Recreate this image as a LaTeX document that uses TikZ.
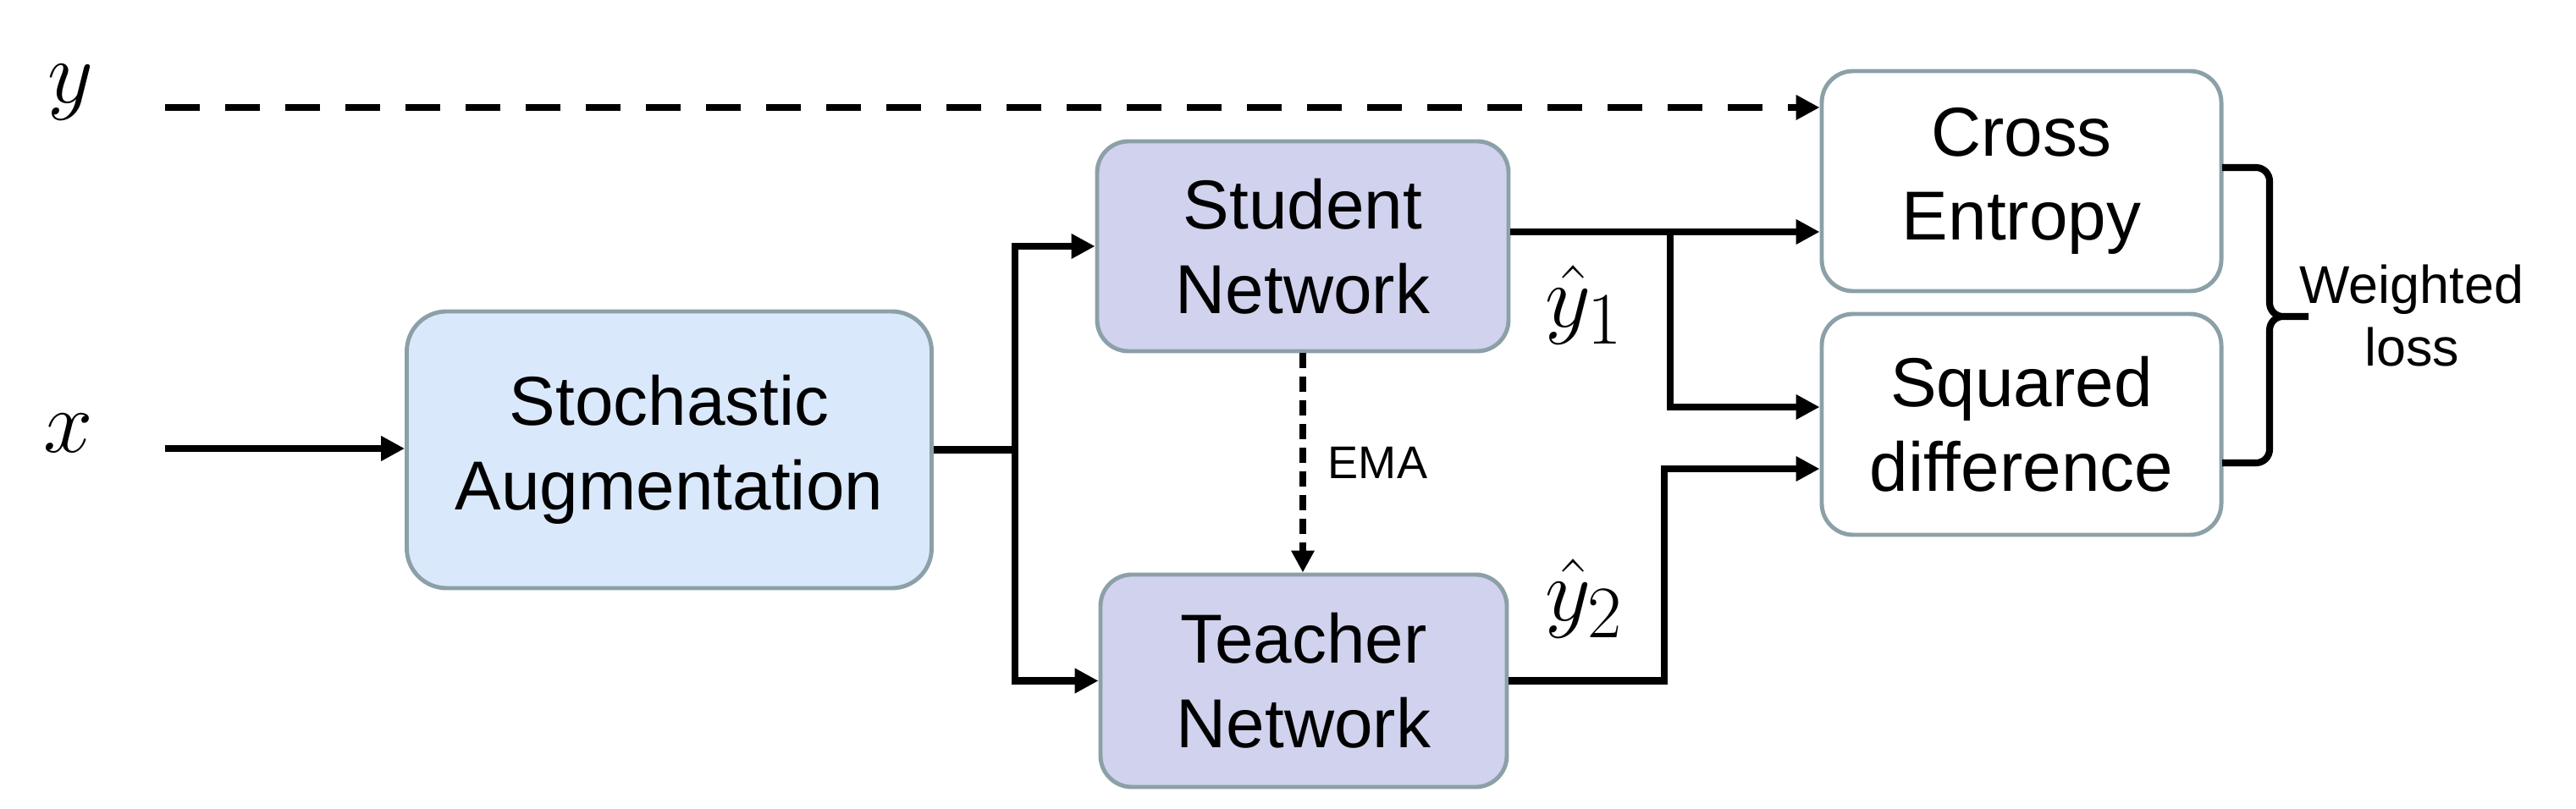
\documentclass[tikz,border=0pt]{standalone}
\usepackage{amsmath}
\usepackage{fontspec}
\setmainfont{Liberation Sans}
\usetikzlibrary{arrows.meta,positioning,calc}

\definecolor{augblue}{RGB}{218,232,252}
\definecolor{netlilac}{RGB}{208,210,238}
\definecolor{boxedge}{RGB}{139,160,167}

\tikzset{
  block/.style={draw=boxedge, line width=1.4pt, align=center, inner sep=0pt,
    font=\fontsize{23.3}{28.4}\selectfont, rounded corners=0.37cm},
  flow/.style={line width=2.5pt, -{Triangle[length=0.28cm,width=0.28cm]}},
  plain/.style={line width=2.5pt},
  mathlab/.style={font=\fontsize{24.88}{30}\selectfont, scale=1.2, inner sep=0pt},
}

\begin{document}
\begin{tikzpicture}% [scale=0.8]
\useasboundingbox (0,0) rectangle (30.43,9.55);

\node[block, fill=augblue, minimum width=6.2cm, minimum height=3.27cm, rounded corners=0.47cm] (aug) at (7.905,4.235) {Stochastic\\Augmentation};
\node[block, fill=netlilac, minimum width=4.86cm, minimum height=2.48cm] (student) at (15.39,6.64) {Student\\Network};
\node[block, fill=netlilac, minimum width=4.8cm, minimum height=2.51cm] (teacher) at (15.40,1.505) {Teacher\\Network};
\node[block, fill=white, minimum width=4.72cm, minimum height=2.6cm] (ce) at (23.88,7.41) {Cross\\Entropy};
\node[block, fill=white, minimum width=4.72cm, minimum height=2.61cm] (sd) at (23.88,4.535) {Squared\\difference};

\node[mathlab] (ylab) at (0.83,8.46) {$y$};
\node[mathlab] (xlab) at (0.805,4.435) {$x$};
\node[mathlab] (yhat1) at (18.72,5.95) {$\hat{y}_1$};
\node[mathlab] (yhat2) at (18.72,2.48) {$\hat{y}_2$};
\node[font=\fontsize{17.9}{21.3}\selectfont, align=center, inner sep=0pt] (wloss) at (28.49,5.82) {Weighted\\loss};

\coordinate (ystart) at (1.95,8.28);
\coordinate (xstart) at (1.95,4.25);
\coordinate (split) at (11.99,4.235);
\coordinate (s1) at ([yshift=0.17cm]student.east);
\coordinate (j1) at (19.73,0);
\coordinate (j2) at (19.66,0);

\draw[flow, dash pattern=on 0.41cm off 0.30cm] (ystart) -- (ystart -| ce.west);
\draw[flow] (xstart) -- (xstart -| aug.west);
\draw[plain] (aug.east) -- (split);
\draw[flow] (split) |- (student.west);
\draw[flow] (split) |- (teacher.west);

\draw[flow] (s1) -- (s1 -| ce.west);
\draw[flow] (s1 -| j1) |- ([yshift=0.205cm]sd.west);
\draw[flow] (teacher.east) -- (teacher.east -| j2) |- ([yshift=-0.525cm]sd.west);

\draw[line width=2.2pt, dash pattern=on 0.18cm off 0.10cm, -{Triangle[length=0.26cm,width=0.26cm]}]
  (student.south) -- node[right=0.26cm, inner sep=0pt, font=\fontsize{15.4}{18}\selectfont] (ema) {EMA} (student.south |- teacher.north);

\draw[line width=2.3pt] (26.25,7.57) -- (26.65,7.57) arc[start angle=90,end angle=0,radius=0.16]
  -- (26.81,5.97) arc[start angle=180,end angle=270,radius=0.16] -- (27.27,5.81)
  -- (26.97,5.81) arc[start angle=90,end angle=180,radius=0.16]
  -- (26.81,4.24) arc[start angle=0,end angle=-90,radius=0.16] -- (26.25,4.08);
\end{tikzpicture}
\end{document}
